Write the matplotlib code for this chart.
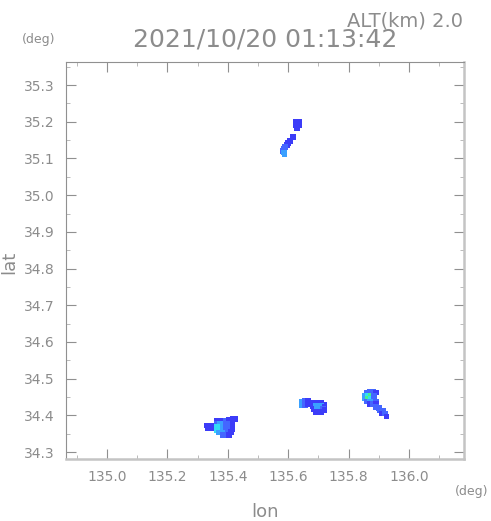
import matplotlib
matplotlib.use('Agg')
import matplotlib.pyplot as plt
from matplotlib.colors import ListedColormap, BoundaryNorm
from matplotlib.ticker import MultipleLocator

# echo cells: lon, lat, level (1 = weak ... 5 = strong)
north_lon = [135.625, 135.635, 135.625, 135.635, 135.630, 135.615,
             135.606, 135.600, 135.595, 135.590, 135.586, 135.582, 135.586, 135.588]
north_lat = [35.200, 35.200, 35.192, 35.192, 35.184, 35.158,
             35.148, 35.143, 35.137, 35.131, 35.126, 35.121, 35.116, 35.111]
north_val = [1, 1, 1, 1, 1, 1,
             1, 1, 1, 2, 2, 2, 3, 3]

west_lon = [135.330, 135.340, 135.350, 135.335, 135.345,
            135.365, 135.375, 135.385, 135.395, 135.405, 135.415, 135.425,
            135.365, 135.375, 135.385, 135.395, 135.405, 135.415,
            135.365, 135.375, 135.385, 135.395, 135.405, 135.415,
            135.365, 135.375, 135.385, 135.395, 135.405, 135.415,
            135.370, 135.380, 135.390, 135.400, 135.410,
            135.385, 135.395, 135.405]
west_lat = [34.372, 34.372, 34.372, 34.366, 34.366,
            34.385, 34.385, 34.385, 34.385, 34.387, 34.390, 34.390,
            34.377, 34.377, 34.377, 34.377, 34.377, 34.380,
            34.369, 34.369, 34.369, 34.369, 34.369, 34.371,
            34.361, 34.361, 34.361, 34.361, 34.361, 34.363,
            34.353, 34.353, 34.353, 34.353, 34.355,
            34.346, 34.346, 34.346]
west_val = [1, 1, 1, 1, 1,
            1, 1, 1, 2, 1, 1, 1,
            2, 3, 3, 2, 2, 1,
            4, 4, 3, 2, 2, 1,
            4, 4, 3, 2, 2, 1,
            3, 3, 3, 2, 1,
            2, 2, 1]

mid_lon = [135.645, 135.655, 135.665, 135.645, 135.655, 135.665,
           135.680, 135.690, 135.700, 135.710, 135.720,
           135.680, 135.690, 135.700, 135.710, 135.720,
           135.685, 135.695, 135.705, 135.715, 135.720,
           135.690, 135.700, 135.710]
mid_lat = [34.437, 34.439, 34.439, 34.429, 34.429, 34.431,
           34.435, 34.435, 34.435, 34.433, 34.429,
           34.426, 34.426, 34.426, 34.426, 34.422,
           34.418, 34.418, 34.418, 34.418, 34.415,
           34.409, 34.409, 34.409]
mid_val = [3, 2, 1, 3, 2, 1,
           1, 1, 1, 1, 1,
           1, 3, 3, 3, 1,
           1, 3, 3, 2, 1,
           1, 1, 1]

east_lon = [135.860, 135.870, 135.880, 135.890,
            135.855, 135.865, 135.875, 135.885,
            135.855, 135.865, 135.875, 135.885,
            135.860, 135.870, 135.880, 135.890,
            135.870, 135.880, 135.890,
            135.890, 135.900, 135.905, 135.915, 135.910, 135.920, 135.925]
east_lat = [34.462, 34.465, 34.465, 34.462,
            34.454, 34.454, 34.454, 34.454,
            34.446, 34.446, 34.446, 34.446,
            34.438, 34.438, 34.438, 34.438,
            34.430, 34.430, 34.430,
            34.422, 34.420, 34.413, 34.413, 34.405, 34.405, 34.397]
east_val = [2, 2, 2, 1,
            3, 4, 5, 2,
            3, 5, 4, 2,
            2, 3, 3, 2,
            1, 2, 1,
            2, 2, 2, 2, 1, 2, 1]

xticks = [135.0, 135.2, 135.4, 135.6, 135.8, 136.0]
yticks = [34.3, 34.4, 34.5, 34.6, 34.7, 34.8, 34.9, 35.0, 35.1, 35.2, 35.3]
time_text = '2021/10/20 01:13:42'
alt_text = 'ALT(km) 2.0'

gray = '#8c8c8c'
cmap = ListedColormap(['#3c3cf8', '#4466ff', '#3aa0ff', '#33dcf6', '#44f090'])
norm = BoundaryNorm([0.5, 1.5, 2.5, 3.5, 4.5, 5.5], cmap.N)

fig = plt.figure(figsize=(4.91, 5.21), dpi=100)
ax = fig.add_axes([0.1344, 0.119, 0.8106, 0.762])

for lon, lat, val in [(north_lon, north_lat, north_val),
                      (west_lon, west_lat, west_val),
                      (mid_lon, mid_lat, mid_val),
                      (east_lon, east_lat, east_val)]:
  ax.scatter(lon, lat, c=val, cmap=cmap, norm=norm, marker='s', s=17, linewidths=0)

ax.set_xlim(134.864, 136.182)
ax.set_ylim(34.281, 35.363)
ax.set_xticks(xticks)
ax.set_yticks(yticks)
ax.set_xticklabels(['%.1f' % v for v in xticks])
ax.set_yticklabels(['%.1f' % v for v in yticks])
ax.xaxis.set_minor_locator(MultipleLocator(0.1))
ax.yaxis.set_minor_locator(MultipleLocator(0.05))
ax.tick_params(which='major', direction='in', length=7, width=0.8, color='#909090',
               labelcolor=gray, labelsize=10, top=True, right=True, pad=8)
ax.tick_params(which='minor', direction='in', length=3, width=0.6, color='#b0b0b0',
               top=True, right=True)

for side in ['left', 'top']:
  ax.spines[side].set_color('#909090')
  ax.spines[side].set_linewidth(0.8)
for side in ['right', 'bottom']:
  ax.spines[side].set_color('#c4c4c4')
  ax.spines[side].set_linewidth(1.8)

fig.text(0.943, 0.978, alt_text, ha='right', va='top', fontsize=14, color=gray)
fig.text(0.54, 0.924, time_text, ha='center', va='center', fontsize=18, color=gray)
fig.text(0.078, 0.924, '(deg)', ha='center', va='center', fontsize=9, color=gray)
fig.text(0.96, 0.057, '(deg)', ha='center', va='center', fontsize=9, color=gray)
fig.text(0.54, 0.017, 'lon', ha='center', va='center', fontsize=13, color=gray)
fig.text(0.018, 0.497, 'lat', ha='center', va='center', fontsize=13, color=gray, rotation=90)

fig.savefig('out.png', dpi=100)
